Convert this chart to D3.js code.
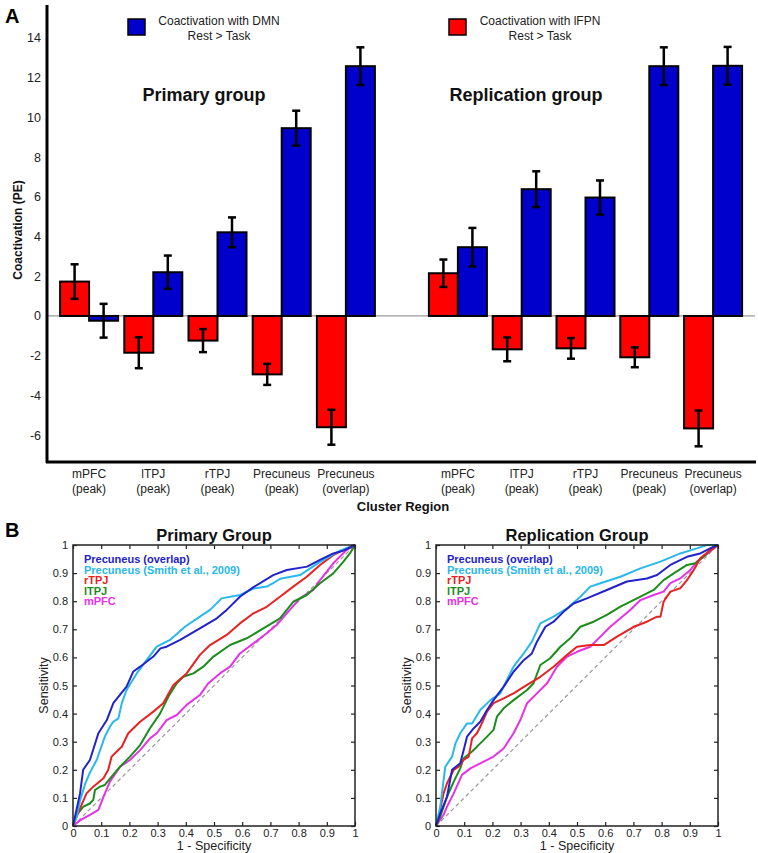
<!DOCTYPE html>
<html lang="en">
<head>
<meta charset="UTF-8">
<title>Coactivation and ROC curves</title>
<style>
body { margin: 0; background: #fff; }
svg { display: block; font-family: "Liberation Sans", Arial, sans-serif; }
</style>
<script src="https://d3js.org/d3.v7.min.js"></script>
</head>
<body>
<svg id="chart" width="758" height="853"></svg>
<script>
// ---- panel A data ----
const regions = ["mPFC (peak)", "lTPJ (peak)", "rTPJ (peak)", "Precuneus (peak)", "Precuneus (overlap)"];
const yTicks = [-6, -4, -2, 0, 2, 4, 6, 8, 10, 12, 14];

const primaryFPN = [1.73, -1.85, -1.24, -2.94, -5.6];
const primaryFPNErr = [0.87, 0.78, 0.58, 0.53, 0.88];
const primaryDMN = [-0.24, 2.2, 4.21, 9.45, 12.57];
const primaryDMNErr = [0.85, 0.84, 0.75, 0.88, 0.95];

const replicationFPN = [2.15, -1.68, -1.63, -2.08, -5.66];
const replicationFPNErr = [0.69, 0.6, 0.52, 0.5, 0.9];
const replicationDMN = [3.46, 6.38, 5.96, 12.57, 12.59];
const replicationDMNErr = [0.97, 0.9, 0.86, 0.95, 0.95];

// ---- panel B data: [1 - specificity, sensitivity] ----
const rocTicks = [0, 0.1, 0.2, 0.3, 0.4, 0.5, 0.6, 0.7, 0.8, 0.9, 1];
const rocNames = ["Precuneus (overlap)", "Precuneus (Smith et al., 2009)", "rTPJ", "lTPJ", "mPFC"];
const rocColors = ["#2222cc", "#28b8ec", "#e82222", "#1c8c1c", "#e632e6"];

const primaryOverlap = [[0,0],[0.025,0.116],[0.036,0.2],[0.06,0.235],[0.09,0.33],[0.12,0.377],[0.143,0.437],[0.19,0.496],[0.214,0.55],[0.238,0.567],[0.285,0.603],[0.31,0.632],[0.332,0.638],[0.38,0.662],[0.45,0.703],[0.51,0.739],[0.545,0.769],[0.592,0.816],[0.64,0.85],[0.71,0.893],[0.758,0.911],[0.83,0.923],[0.876,0.947],[0.923,0.97],[0.959,0.98],[1,1]];
const primarySmith = [[0,0],[0.012,0.03],[0.025,0.09],[0.043,0.15],[0.06,0.19],[0.084,0.235],[0.113,0.318],[0.131,0.353],[0.143,0.371],[0.161,0.383],[0.173,0.437],[0.19,0.484],[0.226,0.543],[0.261,0.59],[0.297,0.638],[0.344,0.662],[0.397,0.709],[0.45,0.745],[0.486,0.769],[0.527,0.81],[0.592,0.822],[0.64,0.845],[0.687,0.852],[0.71,0.864],[0.735,0.88],[0.805,0.893],[0.876,0.94],[0.947,0.98],[1,1]];
const primaryRTPJ = [[0,0],[0.025,0.063],[0.048,0.116],[0.072,0.14],[0.108,0.17],[0.125,0.2],[0.137,0.247],[0.155,0.265],[0.173,0.282],[0.196,0.33],[0.238,0.371],[0.285,0.407],[0.32,0.437],[0.356,0.502],[0.403,0.543],[0.45,0.609],[0.486,0.644],[0.545,0.68],[0.592,0.721],[0.64,0.757],[0.687,0.78],[0.734,0.816],[0.781,0.852],[0.829,0.887],[0.876,0.929],[0.923,0.964],[0.97,0.988],[1,1]];
const primaryLTPJ = [[0,0],[0.013,0.04],[0.037,0.069],[0.06,0.08],[0.072,0.093],[0.078,0.128],[0.096,0.14],[0.113,0.146],[0.137,0.176],[0.167,0.211],[0.202,0.247],[0.238,0.288],[0.273,0.348],[0.309,0.401],[0.338,0.46],[0.368,0.508],[0.391,0.531],[0.427,0.543],[0.462,0.567],[0.498,0.603],[0.557,0.644],[0.616,0.668],[0.675,0.703],[0.734,0.739],[0.781,0.798],[0.829,0.822],[0.876,0.864],[0.923,0.899],[0.959,0.941],[0.982,0.97],[1,1]];
const primaryMPFC = [[0,0],[0.025,0.02],[0.06,0.04],[0.09,0.057],[0.108,0.104],[0.131,0.158],[0.167,0.211],[0.202,0.235],[0.238,0.27],[0.273,0.312],[0.297,0.33],[0.332,0.377],[0.368,0.395],[0.403,0.431],[0.45,0.466],[0.48,0.508],[0.521,0.543],[0.557,0.567],[0.592,0.614],[0.64,0.65],[0.687,0.686],[0.722,0.715],[0.758,0.757],[0.805,0.81],[0.852,0.84],[0.876,0.875],[0.923,0.935],[0.97,0.982],[1,1]];

const replicationOverlap = [[0,0],[0.015,0.045],[0.039,0.104],[0.057,0.2],[0.086,0.223],[0.098,0.27],[0.11,0.318],[0.134,0.348],[0.157,0.371],[0.181,0.413],[0.204,0.448],[0.24,0.496],[0.275,0.549],[0.311,0.59],[0.34,0.614],[0.358,0.656],[0.388,0.709],[0.417,0.727],[0.453,0.763],[0.488,0.792],[0.535,0.81],[0.606,0.84],[0.677,0.87],[0.748,0.881],[0.784,0.893],[0.831,0.929],[0.89,0.958],[0.937,0.97],[0.985,0.994],[1,1]];
const replicationSmith = [[0,0],[0.015,0.069],[0.033,0.211],[0.057,0.247],[0.069,0.294],[0.086,0.33],[0.11,0.365],[0.128,0.365],[0.157,0.413],[0.193,0.448],[0.228,0.472],[0.275,0.567],[0.311,0.614],[0.34,0.656],[0.37,0.721],[0.417,0.745],[0.465,0.775],[0.512,0.816],[0.547,0.852],[0.583,0.864],[0.654,0.887],[0.725,0.917],[0.796,0.941],[0.866,0.97],[0.925,0.988],[0.961,1],[1,1]];
const replicationRTPJ = [[0,0],[0.009,0.033],[0.027,0.116],[0.039,0.152],[0.063,0.2],[0.08,0.211],[0.098,0.235],[0.116,0.247],[0.128,0.312],[0.145,0.33],[0.157,0.353],[0.181,0.407],[0.204,0.437],[0.24,0.454],[0.275,0.472],[0.323,0.502],[0.37,0.531],[0.417,0.567],[0.465,0.609],[0.5,0.638],[0.547,0.644],[0.595,0.644],[0.642,0.674],[0.701,0.709],[0.748,0.727],[0.784,0.745],[0.796,0.745],[0.807,0.798],[0.831,0.834],[0.866,0.846],[0.89,0.875],[0.914,0.911],[0.937,0.953],[0.973,0.982],[1,1]];
const replicationLTPJ = [[0,0],[0.015,0.033],[0.039,0.104],[0.063,0.158],[0.086,0.205],[0.098,0.241],[0.128,0.265],[0.157,0.294],[0.181,0.318],[0.204,0.342],[0.216,0.389],[0.24,0.419],[0.275,0.448],[0.323,0.484],[0.346,0.508],[0.37,0.573],[0.405,0.597],[0.441,0.638],[0.476,0.668],[0.512,0.709],[0.559,0.727],[0.606,0.751],[0.654,0.781],[0.725,0.816],[0.772,0.84],[0.807,0.875],[0.843,0.899],[0.89,0.929],[0.92,0.935],[0.949,0.958],[0.973,0.982],[1,1]];
const replicationMPFC = [[0,0],[0.027,0.04],[0.039,0.069],[0.063,0.116],[0.092,0.182],[0.122,0.205],[0.157,0.223],[0.204,0.247],[0.24,0.276],[0.275,0.33],[0.299,0.377],[0.323,0.437],[0.358,0.472],[0.394,0.508],[0.429,0.567],[0.465,0.603],[0.5,0.62],[0.547,0.638],[0.583,0.674],[0.618,0.709],[0.654,0.739],[0.689,0.769],[0.725,0.804],[0.772,0.822],[0.807,0.834],[0.831,0.864],[0.866,0.881],[0.902,0.911],[0.925,0.941],[0.949,0.958],[0.985,0.988],[1,1]];

const svg = d3.select("#chart");
const RED = "#ff0000", BLUE = "#0000cc";

// ================= Panel A =================
const y = d3.scaleLinear().domain([-7.35, 15.65]).range([462, 5]);
const groups = [
    { title: "Primary group", titleX: 204, fpn: primaryFPN, fpnErr: primaryFPNErr, dmn: primaryDMN, dmnErr: primaryDMNErr,
      x: d3.scaleBand().domain(regions).range([57, 378]) },
    { title: "Replication group", titleX: 526, fpn: replicationFPN, fpnErr: replicationFPNErr, dmn: replicationDMN, dmnErr: replicationDMNErr,
      x: d3.scaleBand().domain(regions).range([426, 745]) }
];
const barW = 29;

// zero line
svg.append("line")
    .attr("x1", 47).attr("x2", 755)
    .attr("y1", y(0)).attr("y2", y(0))
    .attr("stroke", "#9a9a9a").attr("stroke-width", 1.2);

groups.forEach(g => {
    const center = d => g.x(d) + g.x.bandwidth() / 2;
    const series = [
        { vals: g.fpn, errs: g.fpnErr, color: RED, off: -barW },
        { vals: g.dmn, errs: g.dmnErr, color: BLUE, off: 0 }
    ];
    series.forEach(s => {
        svg.append("g").selectAll("rect")
            .data(regions)
            .join("rect")
            .attr("x", d => center(d) + s.off)
            .attr("width", barW)
            .attr("y", (d, i) => y(Math.max(0, s.vals[i])))
            .attr("height", (d, i) => Math.abs(y(s.vals[i]) - y(0)))
            .attr("fill", s.color)
            .attr("stroke", "#000")
            .attr("stroke-width", 2);
    });
    series.forEach(s => {
        const eg = svg.append("g").attr("stroke", "#000").attr("stroke-width", 2.5);
        regions.forEach((d, i) => {
            const cx = center(d) + s.off + barW / 2;
            const lo = y(s.vals[i] - s.errs[i]), hi = y(s.vals[i] + s.errs[i]);
            eg.append("line").attr("x1", cx).attr("x2", cx).attr("y1", lo).attr("y2", hi);
            eg.append("line").attr("x1", cx - 4).attr("x2", cx + 4).attr("y1", lo).attr("y2", lo);
            eg.append("line").attr("x1", cx - 4).attr("x2", cx + 4).attr("y1", hi).attr("y2", hi);
        });
    });

    // category labels
    const lab = svg.append("g").attr("font-size", 12).attr("fill", "#222").attr("text-anchor", "middle");
    regions.forEach(d => {
        const sp = d.indexOf(" ");
        lab.append("text").attr("x", center(d)).attr("y", 478).text(d.slice(0, sp));
        lab.append("text").attr("x", center(d)).attr("y", 493).text(d.slice(sp + 1));
    });

    svg.append("text")
        .attr("x", g.titleX).attr("y", 101)
        .attr("text-anchor", "middle")
        .attr("font-size", 18).attr("font-weight", "bold").attr("fill", "#111")
        .text(g.title);
});

// axes
svg.append("line").attr("x1", 47).attr("x2", 47).attr("y1", 5).attr("y2", 463)
    .attr("stroke", "#000").attr("stroke-width", 3);
svg.append("line").attr("x1", 46).attr("x2", 756).attr("y1", 462).attr("y2", 462)
    .attr("stroke", "#000").attr("stroke-width", 3);

svg.append("g").selectAll("text")
    .data(yTicks)
    .join("text")
    .attr("x", 41).attr("y", d => y(d))
    .attr("dy", "0.36em")
    .attr("text-anchor", "end")
    .attr("font-size", 12.5).attr("fill", "#222")
    .text(d => d);

svg.append("text")
    .attr("transform", "translate(22,230) rotate(-90)")
    .attr("text-anchor", "middle")
    .attr("font-size", 12).attr("font-weight", "bold").attr("fill", "#111")
    .text("Coactivation (PE)");

svg.append("text")
    .attr("x", 403).attr("y", 511)
    .attr("text-anchor", "middle")
    .attr("font-size", 13).attr("font-weight", "bold").attr("fill", "#111")
    .text("Cluster Region");

// legend
const legendItems = [
    { color: BLUE, x: 128, tx: 219, lines: ["Coactivation with DMN", "Rest > Task"] },
    { color: RED, x: 449, tx: 540, lines: ["Coactivation with lFPN", "Rest > Task"] }
];
legendItems.forEach(l => {
    svg.append("rect").attr("x", l.x).attr("y", 19).attr("width", 17).attr("height", 16)
        .attr("fill", l.color).attr("stroke", "#000").attr("stroke-width", 1.5);
    l.lines.forEach((t, i) => {
        svg.append("text").attr("x", l.tx).attr("y", 25 + i * 14.5)
            .attr("text-anchor", "middle").attr("font-size", 12).attr("fill", "#222").text(t);
    });
});

svg.append("text").attr("x", 5).attr("y", 23)
    .attr("font-size", 20).attr("font-weight", "bold").text("A");
svg.append("text").attr("x", 5).attr("y", 537)
    .attr("font-size", 20).attr("font-weight", "bold").text("B");

// ================= Panel B =================
const rocPanels = [
    { title: "Primary Group", left: 73, curves: [primaryOverlap, primarySmith, primaryRTPJ, primaryLTPJ, primaryMPFC] },
    { title: "Replication Group", left: 436, curves: [replicationOverlap, replicationSmith, replicationRTPJ, replicationLTPJ, replicationMPFC] }
];
const rocTop = 545, rocSize = 282, rocH = 281;
const fmt = d => String(+d.toFixed(1));

rocPanels.forEach(p => {
    const x = d3.scaleLinear().domain([0, 1]).range([p.left, p.left + rocSize]);
    const yr = d3.scaleLinear().domain([0, 1]).range([rocTop + rocH, rocTop]);
    const g = svg.append("g");

    // diagonal
    g.append("line")
        .attr("x1", x(0)).attr("y1", yr(0)).attr("x2", x(1)).attr("y2", yr(1))
        .attr("stroke", "#999").attr("stroke-width", 1.2).attr("stroke-dasharray", "4,3");

    const line = d3.line().x(d => x(d[0])).y(d => yr(d[1]));
    // draw in reverse so the overlap curve sits on top
    p.curves.map((c, i) => ({ c, i })).reverse().forEach(({ c, i }) => {
        g.append("path").attr("d", line(c))
            .attr("fill", "none").attr("stroke", rocColors[i]).attr("stroke-width", 2)
            .attr("stroke-linejoin", "round");
    });

    // axes, ticks inward on all sides
    const axes = [
        { a: d3.axisBottom(x).tickValues(rocTicks).tickSize(-4).tickPadding(3).tickFormat(fmt), t: `translate(0,${yr(0)})` },
        { a: d3.axisLeft(yr).tickValues(rocTicks).tickSize(-4).tickPadding(5).tickFormat(fmt), t: `translate(${x(0)},0)` },
        { a: d3.axisTop(x).tickValues(rocTicks).tickSize(-4).tickFormat(""), t: `translate(0,${yr(1)})` },
        { a: d3.axisRight(yr).tickValues(rocTicks).tickSize(-4).tickFormat(""), t: `translate(${x(1)},0)` }
    ];
    axes.forEach(ax => {
        const ag = g.append("g").attr("transform", ax.t).call(ax.a);
        ag.select(".domain").remove();
        ag.selectAll("line").attr("stroke", "#222").attr("stroke-width", 1.2);
        ag.selectAll("text").attr("font-size", 11).attr("fill", "#222")
            .attr("font-family", "'Liberation Sans', Arial, sans-serif");
    });

    g.append("rect")
        .attr("x", x(0)).attr("y", yr(1))
        .attr("width", x(1) - x(0)).attr("height", yr(0) - yr(1))
        .attr("fill", "none").attr("stroke", "#222").attr("stroke-width", 1.5);

    // legend
    rocNames.forEach((n, i) => {
        g.append("text")
            .attr("x", p.left + 11).attr("y", rocTop + 18 + i * 10.6)
            .attr("font-size", 11).attr("font-weight", "bold").attr("fill", rocColors[i])
            .text(n);
    });

    g.append("text")
        .attr("x", (x(0) + x(1)) / 2).attr("y", 541)
        .attr("text-anchor", "middle")
        .attr("font-size", 16.5).attr("font-weight", "bold").attr("fill", "#111")
        .text(p.title);

    g.append("text")
        .attr("x", (x(0) + x(1)) / 2).attr("y", 850)
        .attr("text-anchor", "middle")
        .attr("font-size", 12.5).attr("fill", "#222")
        .text("1 - Specificity");

    g.append("text")
        .attr("transform", `translate(${p.left - 25},${rocTop + rocH / 2}) rotate(-90)`)
        .attr("text-anchor", "middle")
        .attr("font-size", 12.5).attr("fill", "#222")
        .text("Sensitivity");
});
</script>
</body>
</html>
